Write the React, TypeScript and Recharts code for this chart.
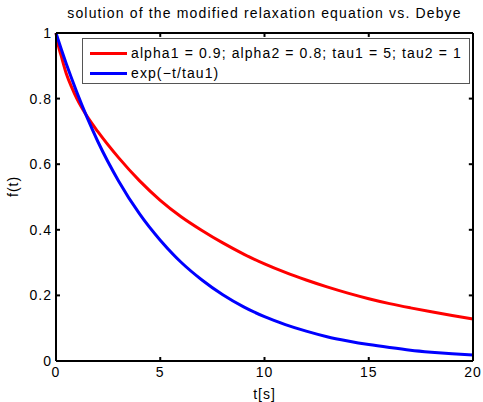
import React from "react";
import { LineChart, Line, XAxis, YAxis, ReferenceLine } from "recharts";

const tValues = [0, 0.1, 0.25, 0.5, 0.75, 1, 1.5, 2, 3, 4, 5, 6, 7, 8, 9, 10, 11, 12, 13, 14, 15, 16, 17, 18, 19, 20];
const fractional = [1, 0.965, 0.93, 0.875, 0.835, 0.8, 0.745, 0.7, 0.62, 0.55, 0.49, 0.44, 0.398, 0.36, 0.326, 0.296, 0.27, 0.247, 0.226, 0.207, 0.19, 0.175, 0.162, 0.15, 0.139, 0.128];
const debye = [1, 0.98, 0.951, 0.905, 0.861, 0.819, 0.741, 0.67, 0.549, 0.449, 0.368, 0.301, 0.247, 0.202, 0.165, 0.135, 0.111, 0.091, 0.074, 0.061, 0.05, 0.041, 0.033, 0.027, 0.022, 0.018];
const xTicks = [0, 5, 10, 15, 20];
const yTicks = [0, 0.2, 0.4, 0.6, 0.8, 1];
const seriesNames = ["alpha1 = 0.9; alpha2 = 0.8; tau1 = 5; tau2 = 1", "exp(\u2212t/tau1)"];
const seriesColors = ["#ff0000", "#0000ff"];

const data = tValues.map((t, i) => ({ t, red: fractional[i], blue: debye[i] }));

const font = "'Liberation Sans', Arial, sans-serif";
const tickStyle = { fontSize: 14, fill: "#000", fontFamily: font, letterSpacing: "1px" };
const axisLine = { stroke: "#000", strokeWidth: 2 };

const xMax = xTicks[xTicks.length - 1];
const yMax = yTicks[yTicks.length - 1];

export default function App() {
  return (
    <div style={{ position: "absolute", left: 0, top: 0, width: 483, height: 402, background: "#fff", fontFamily: font }}>
      <LineChart width={483} height={402} data={data} margin={{ top: 33, right: 10, left: 0, bottom: 0 }}>
        <XAxis
          dataKey="t"
          type="number"
          domain={[0, 20]}
          ticks={xTicks}
          height={41}
          axisLine={axisLine}
          tickLine={axisLine}
          tickSize={-4}
          tickMargin={10}
          tick={tickStyle}
          label={{ value: "t[s]", position: "insideBottom", offset: 3, fill: "#000", fontSize: 14, fontFamily: font, letterSpacing: "1px" }}
        />
        <YAxis
          type="number"
          domain={[0, 1]}
          ticks={yTicks}
          width={56}
          axisLine={axisLine}
          tickLine={axisLine}
          tickSize={-4}
          tickMargin={8}
          tick={tickStyle}
          label={{ value: "f(t)", angle: -90, position: "insideLeft", offset: 13, fill: "#000", fontSize: 14, fontFamily: font, letterSpacing: "1px" }}
        />
        <Line type="monotone" dataKey="red" stroke={seriesColors[0]} strokeWidth={3} dot={false} isAnimationActive={false} />
        <Line type="monotone" dataKey="blue" stroke={seriesColors[1]} strokeWidth={3} dot={false} isAnimationActive={false} />
        {/* box: top and right edges */}
        <ReferenceLine y={yMax} stroke="#000" strokeWidth={2} ifOverflow="visible" />
        <ReferenceLine x={xMax} stroke="#000" strokeWidth={2} ifOverflow="visible" />
        {/* inward ticks on top and right */}
        {xTicks.slice(1, -1).map((t) => (
          <ReferenceLine key={"tx" + t} segment={[{ x: t, y: yMax }, { x: t, y: yMax * 0.988 }]} stroke="#000" strokeWidth={2} ifOverflow="visible" />
        ))}
        {yTicks.slice(1, -1).map((v) => (
          <ReferenceLine key={"ry" + v} segment={[{ x: xMax, y: v }, { x: xMax * 0.99, y: v }]} stroke="#000" strokeWidth={2} ifOverflow="visible" />
        ))}
      </LineChart>
      <div style={{ position: "absolute", left: 0, width: 529, top: 5, textAlign: "center", fontSize: 14, letterSpacing: "1.15px", lineHeight: "16px" }}>
        solution of the modified relaxation equation vs. Debye
      </div>
      <div style={{ position: "absolute", zIndex: 6, left: 82, top: 38, width: 386, height: 44, border: "1px solid #555", background: "#fff", fontSize: 14, letterSpacing: "1.1px" }}>
        {seriesNames.map((n, i) => (
          <div key={n} style={{ position: "absolute", left: 7, top: 4 + i * 20, height: 20, display: "flex", alignItems: "center", whiteSpace: "nowrap", lineHeight: "16px" }}>
            <span style={{ display: "inline-block", width: 37, height: 3, background: seriesColors[i], marginRight: 4 }} />
            {n}
          </div>
        ))}
      </div>
    </div>
  );
}
